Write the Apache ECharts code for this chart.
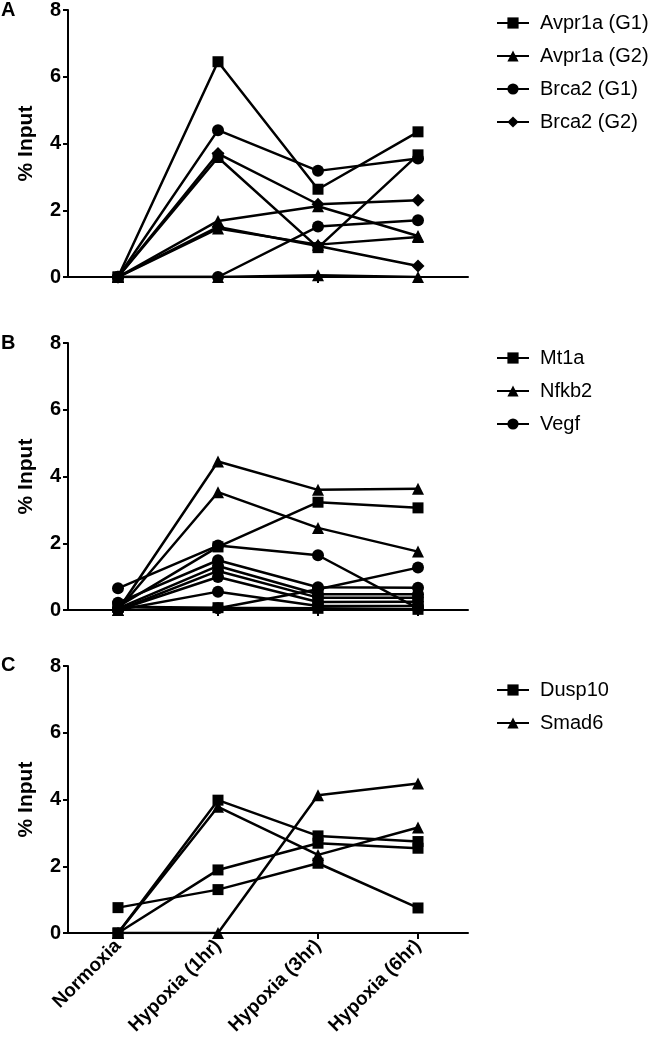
<!DOCTYPE html>
<html>
<head>
<meta charset="utf-8">
<script src="https://cdn.jsdelivr.net/npm/echarts@6/dist/echarts.min.js"></script>
<style>html,body{margin:0;padding:0;background:#fff}#c{width:657px;height:1050px}</style>
</head>
<body>
<div id="c"></div>
<script>
// ---- data ----
const categories = ['Normoxia', 'Hypoxia (1hr)', 'Hypoxia (3hr)', 'Hypoxia (6hr)'];
const yMin = 0, yMax = 8, yStep = 2;

// Panel A
const avpr1aG1_a = [0, 6.45, 2.63, 4.35];
const avpr1aG1_b = [0, 3.58, 0.88, 3.66];
const avpr1aG2_a = [0, 1.68, 2.12, 1.23];
const avpr1aG2_b = [0, 1.45, 0.97, 1.20];
const avpr1aG2_c = [0, 0, 0.05, 0];
const brca2G1_a = [0, 4.40, 3.18, 3.55];
const brca2G1_b = [0, 0, 1.51, 1.70];
const brca2G2_a = [0, 3.70, 2.18, 2.30];
const brca2G2_b = [0, 1.50, 0.93, 0.33];

// Panel B
const mt1a_a = [0.10, 1.89, 3.23, 3.06];
const mt1a_b = [0.10, 0.07, 0.05, 0.02];
const nfkb2_a = [0, 4.45, 3.60, 3.63];
const nfkb2_b = [0, 3.53, 2.46, 1.75];
const vegf_a = [0.65, 1.93, 1.64, 0.05];
const vegf_b = [0.22, 1.49, 0.68, 0.67];
const vegf_c = [0.05, 1.32, 0.47, 0.47];
const vegf_d = [0, 1.17, 0.37, 0.37];
const vegf_e = [0, 0.99, 0.24, 0.25];
const vegf_f = [0, 0.55, 0.12, 0.12];
const vegf_g = [0, 0.05, 0.62, 1.27];

// Panel C
const dusp10_a = [0, 3.98, 2.91, 2.74];
const dusp10_b = [0, 1.89, 2.69, 2.54];
const dusp10_c = [0.76, 1.30, 2.09, 0.75];
const smad6_a = [0, 0, 4.13, 4.48];
const smad6_b = [0, 3.78, 2.34, 3.16];

const legendA = ['Avpr1a (G1)', 'Avpr1a (G2)', 'Brca2 (G1)', 'Brca2 (G2)'];
const legendB = ['Mt1a', 'Nfkb2', 'Vegf'];
const legendC = ['Dusp10', 'Smad6'];

// ---- chart ----
const FONT = 'Liberation Sans, Arial, Helvetica, sans-serif';
const panels = [
  { top: 10, series: [
    ['Avpr1a (G1)', 'rect', avpr1aG1_a], ['Avpr1a (G1)', 'rect', avpr1aG1_b],
    ['Avpr1a (G2)', 'triangle', avpr1aG2_a], ['Avpr1a (G2)', 'triangle', avpr1aG2_b], ['Avpr1a (G2)', 'triangle', avpr1aG2_c],
    ['Brca2 (G1)', 'circle', brca2G1_a], ['Brca2 (G1)', 'circle', brca2G1_b],
    ['Brca2 (G2)', 'diamond', brca2G2_a], ['Brca2 (G2)', 'diamond', brca2G2_b]
  ], legend: legendA, legendTop: 8, letter: 'A', letterY: 11, showX: false },
  { top: 343, series: [
    ['Mt1a', 'rect', mt1a_a], ['Mt1a', 'rect', mt1a_b],
    ['Nfkb2', 'triangle', nfkb2_a], ['Nfkb2', 'triangle', nfkb2_b],
    ['Vegf', 'circle', vegf_a], ['Vegf', 'circle', vegf_b], ['Vegf', 'circle', vegf_c],
    ['Vegf', 'circle', vegf_d], ['Vegf', 'circle', vegf_e], ['Vegf', 'circle', vegf_f], ['Vegf', 'circle', vegf_g]
  ], legend: legendB, legendTop: 343, letter: 'B', letterY: 344, showX: false },
  { top: 666, series: [
    ['Dusp10', 'rect', dusp10_a], ['Dusp10', 'rect', dusp10_b], ['Dusp10', 'rect', dusp10_c],
    ['Smad6', 'triangle', smad6_a], ['Smad6', 'triangle', smad6_b]
  ], legend: legendC, legendTop: 675, letter: 'C', letterY: 666, showX: true }
];

const symSize = { rect: 11, triangle: 12, circle: 12, diamond: 13 };
const option = { animation: false, backgroundColor: '#fff', grid: [], xAxis: [], yAxis: [], series: [], legend: [], graphic: [] };

panels.forEach((p, i) => {
  option.grid.push({ left: 68, width: 400, top: p.top, height: 267 });
  option.xAxis.push({
    type: 'category', gridIndex: i, data: categories, boundaryGap: true,
    axisLine: { lineStyle: { color: '#000', width: 2 } },
    axisTick: { show: true, alignWithLabel: true, length: 6, lineStyle: { color: '#000', width: 2 } },
    axisLabel: { show: p.showX, rotate: 45, interval: 0, margin: 10, color: '#000', fontWeight: 'bold', fontSize: 19, fontFamily: FONT },
    splitLine: { show: false }
  });
  option.yAxis.push({
    type: 'value', gridIndex: i, min: yMin, max: yMax, interval: yStep,
    name: '% Input', nameLocation: 'middle', nameGap: 31,
    nameTextStyle: { color: '#000', fontWeight: 'bold', fontSize: 21, fontFamily: FONT },
    axisLine: { show: true, lineStyle: { color: '#000', width: 2 } },
    axisTick: { show: true, length: 5, lineStyle: { color: '#000', width: 2 } },
    axisLabel: { color: '#000', fontWeight: 'bold', fontSize: 20, fontFamily: FONT, margin: 7 },
    splitLine: { show: false }
  });
  p.series.forEach(s => {
    option.series.push({
      type: 'line', name: s[0], xAxisIndex: i, yAxisIndex: i, data: s[2],
      symbol: s[1], symbolSize: symSize[s[1]], showAllSymbol: true,
      lineStyle: { color: '#000', width: 2.5 }, itemStyle: { color: '#000' },
      emphasis: { disabled: true }
    });
  });
  option.legend.push({
    data: p.legend, left: 491, top: p.legendTop, orient: 'vertical',
    itemWidth: 32, itemHeight: 14, itemGap: 13, selectedMode: false,
    textStyle: { color: '#000', fontSize: 20, fontFamily: FONT, padding: [0, 0, 0, 6] }
  });
  option.graphic.push({
    type: 'text', left: 1, top: p.letterY - 11,
    style: { text: p.letter, fill: '#000', font: 'bold 20px ' + FONT }
  });
});

const chart = echarts.init(document.getElementById('c'), null, { renderer: 'canvas' });
chart.setOption(option);
</script>
</body>
</html>
